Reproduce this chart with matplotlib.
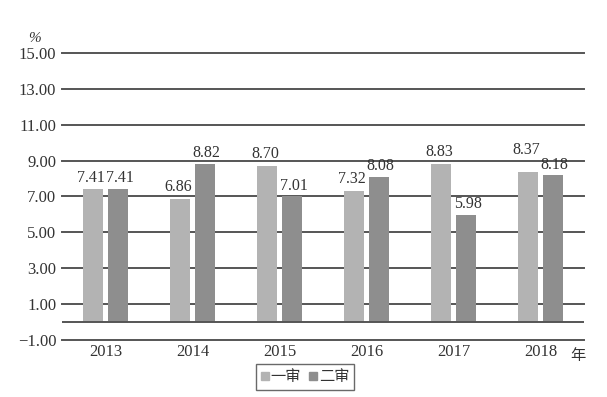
import numpy as np
import matplotlib.pyplot as plt
from matplotlib.lines import Line2D

# 数据
years = ['2013', '2014', '2015', '2016', '2017', '2018']
first = [7.41, 6.86, 8.70, 7.32, 8.83, 8.37]   # 一审
second = [7.41, 8.82, 7.01, 8.08, 5.98, 8.18]  # 二审
yticks = [-1, 1, 3, 5, 7, 9, 11, 13, 15]

c1 = '#b3b3b3'
c2 = '#8e8e8e'
txt = '#333333'
serif = ['Liberation Serif', 'DejaVu Serif']
cjk = ['Noto Sans CJK SC', 'DejaVu Sans']

fig = plt.figure(figsize=(6.07, 3.97), dpi=100)
ax = fig.add_axes([0.102, 0.1436, 0.86, 0.7229])

x = np.arange(len(years))
w = 0.23
off = 0.145
b1 = ax.bar(x - off, first, w, color=c1, zorder=3)
b2 = ax.bar(x + off, second, w, color=c2, zorder=3)

# 数值标签（2018年一审标签略抬高，避免与二审重叠）
for i, rect in enumerate(b1):
    v = first[i]
    dy = 0.75 if i == len(years) - 1 else 0.2
    ax.text(rect.get_x() + rect.get_width() / 2 - 0.02, v + dy, f'{v:.2f}',
            ha='center', va='bottom', fontsize=11.5, color=txt, family=serif)
for i, rect in enumerate(b2):
    v = second[i]
    ax.text(rect.get_x() + rect.get_width() / 2 + 0.02, v + 0.15, f'{v:.2f}',
            ha='center', va='bottom', fontsize=11.5, color=txt, family=serif)

# 网格线
for t in yticks:
    ax.axhline(t, color='#555555', lw=1.4, zorder=1, clip_on=False)
ax.axhline(0, color='#555555', lw=1.4, zorder=4)

ax.set_xlim(-0.5, len(years) - 0.5)
ax.set_ylim(-1, 15)
ax.set_yticks(yticks)
ax.set_yticklabels([f'{t:.2f}'.replace('-', '\u2212') for t in yticks],
                   family=serif, fontsize=12, color=txt)
ax.set_xticks(x)
ax.set_xticklabels(years, family=serif, fontsize=12, color=txt)
ax.tick_params(length=0, pad=4)
ax.tick_params(axis='x', pad=3)
for s in ax.spines.values():
    s.set_visible(False)

ax.text(-0.052, 1.05, '%', transform=ax.transAxes, fontsize=11, color=txt,
        family=serif, style='italic', ha='center', va='center')
ax.text(0.989, -0.025, '年', transform=ax.transAxes, fontsize=11, color=txt,
        family=cjk, ha='center', va='top')

handles = [Line2D([], [], marker='s', ls='', color=c1, markersize=6),
           Line2D([], [], marker='s', ls='', color=c2, markersize=6)]
leg = fig.legend(handles, ['一审', '二审'], loc='center', ncol=2,
                 bbox_to_anchor=(305 / 607, 1 - 377 / 397), frameon=True,
                 fancybox=False, edgecolor='#444444', handlelength=0.5,
                 handletextpad=0.1, columnspacing=0.6, borderpad=0.3,
                 borderaxespad=0, prop={'family': cjk, 'size': 11})
leg.get_frame().set_linewidth(1.0)
for t in leg.get_texts():
    t.set_color(txt)

fig.savefig('out.png', dpi=100)
